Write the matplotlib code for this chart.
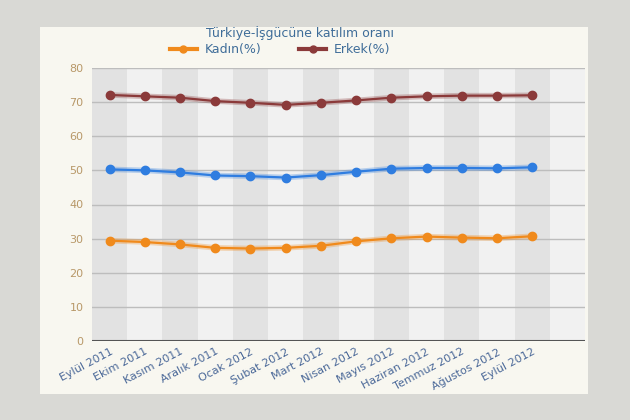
import matplotlib.pyplot as plt
from matplotlib.patches import Rectangle
from matplotlib.lines import Line2D

months = ["Eylül 2011", "Ekim 2011", "Kasım 2011", "Aralık 2011", "Ocak 2012",
          "Şubat 2012", "Mart 2012", "Nisan 2012", "Mayıs 2012", "Haziran 2012",
          "Temmuz 2012", "Ağustos 2012", "Eylül 2012"]
kadin = [29.4, 29.0, 28.3, 27.3, 27.1, 27.3, 27.9, 29.2, 30.1, 30.6, 30.3, 30.1, 30.7]
erkek = [72.1, 71.7, 71.3, 70.3, 69.8, 69.2, 69.8, 70.5, 71.3, 71.7, 71.9, 71.9, 72.0]
toplam = [50.3, 50.0, 49.4, 48.5, 48.3, 47.9, 48.6, 49.6, 50.5, 50.7, 50.7, 50.6, 50.9]
yticks = [0, 10, 20, 30, 40, 50, 60, 70, 80]

fig = plt.figure(figsize=(6.3, 4.2), dpi=100, facecolor="#d9d9d5")
# cream panel behind the chart
fig.patches.append(Rectangle((40 / 630, 1 - 394 / 420), 548 / 630, 367 / 420,
                             transform=fig.transFigure, facecolor="#f8f7f0",
                             edgecolor="none", zorder=-1))

ax = fig.add_axes([92 / 630, 1 - 341 / 420, 493 / 630, 273 / 420])
ax.set_zorder(1)
ax.set_facecolor("#f1f1f1")
nbands = len(months) + 1
for i in range(nbands):
    c = "#e2e2e2" if i % 2 == 0 else "#f1f1f1"
    ax.axvspan(i - 0.5, i + 0.5, color=c, lw=0, zorder=0)

ax.set_xlim(-0.5, nbands - 0.5)
ax.set_ylim(0, 80)
for y in yticks[1:]:
    ax.axhline(y, color="#bdbdbd", lw=1, zorder=1)
ax.axhline(0, color="#555555", lw=1.5, zorder=2)

x = list(range(len(months)))
ax.plot(x, erkek, color="#8b3a3a", lw=4, alpha=0.3, zorder=3)
ax.plot(x, erkek, color="#8b3a3a", lw=1.6, marker="o", ms=6, zorder=4)
ax.plot(x, toplam, color="#2f7de0", lw=4, alpha=0.3, zorder=3)
ax.plot(x, toplam, color="#2f7de0", lw=1.6, marker="o", ms=6, zorder=4)
ax.plot(x, kadin, color="#f08a1c", lw=4, alpha=0.3, zorder=3)
ax.plot(x, kadin, color="#f08a1c", lw=1.6, marker="o", ms=6, zorder=4)

ax.set_yticks(yticks)
ax.set_yticklabels([str(v) for v in yticks], color="#b89868", fontsize=8)
ax.set_xticks(x)
ax.set_xticklabels(months, rotation=28, ha="right", rotation_mode="anchor",
                   color="#4a6898", fontsize=8)
ax.tick_params(axis="y", length=0, pad=6)
ax.tick_params(axis="x", length=0, pad=4)
for lbl in ax.get_xticklabels():
    lbl.set_x(lbl.get_position()[0])
for s in ax.spines.values():
    s.set_visible(False)

fig.text(300 / 630, 1 - 33 / 420, "Türkiye-İşgücüne katılım oranı", ha="center",
         va="center", color="#3f6d99", fontsize=9)
handles = [Line2D([], [], color="#f08a1c", lw=3, marker="o", ms=5),
           Line2D([], [], color="#8b3a3a", lw=3, marker="o", ms=5)]
fig.legend(handles, ["Kadın(%)", "Erkek(%)"], loc="center",
           bbox_to_anchor=(280 / 630, 1 - 50 / 420), ncol=2, frameon=False,
           fontsize=9, labelcolor="#3f6d99", handlelength=2.2, columnspacing=3,
           handletextpad=0.6)

fig.savefig("out.png", dpi=100, facecolor=fig.get_facecolor())
